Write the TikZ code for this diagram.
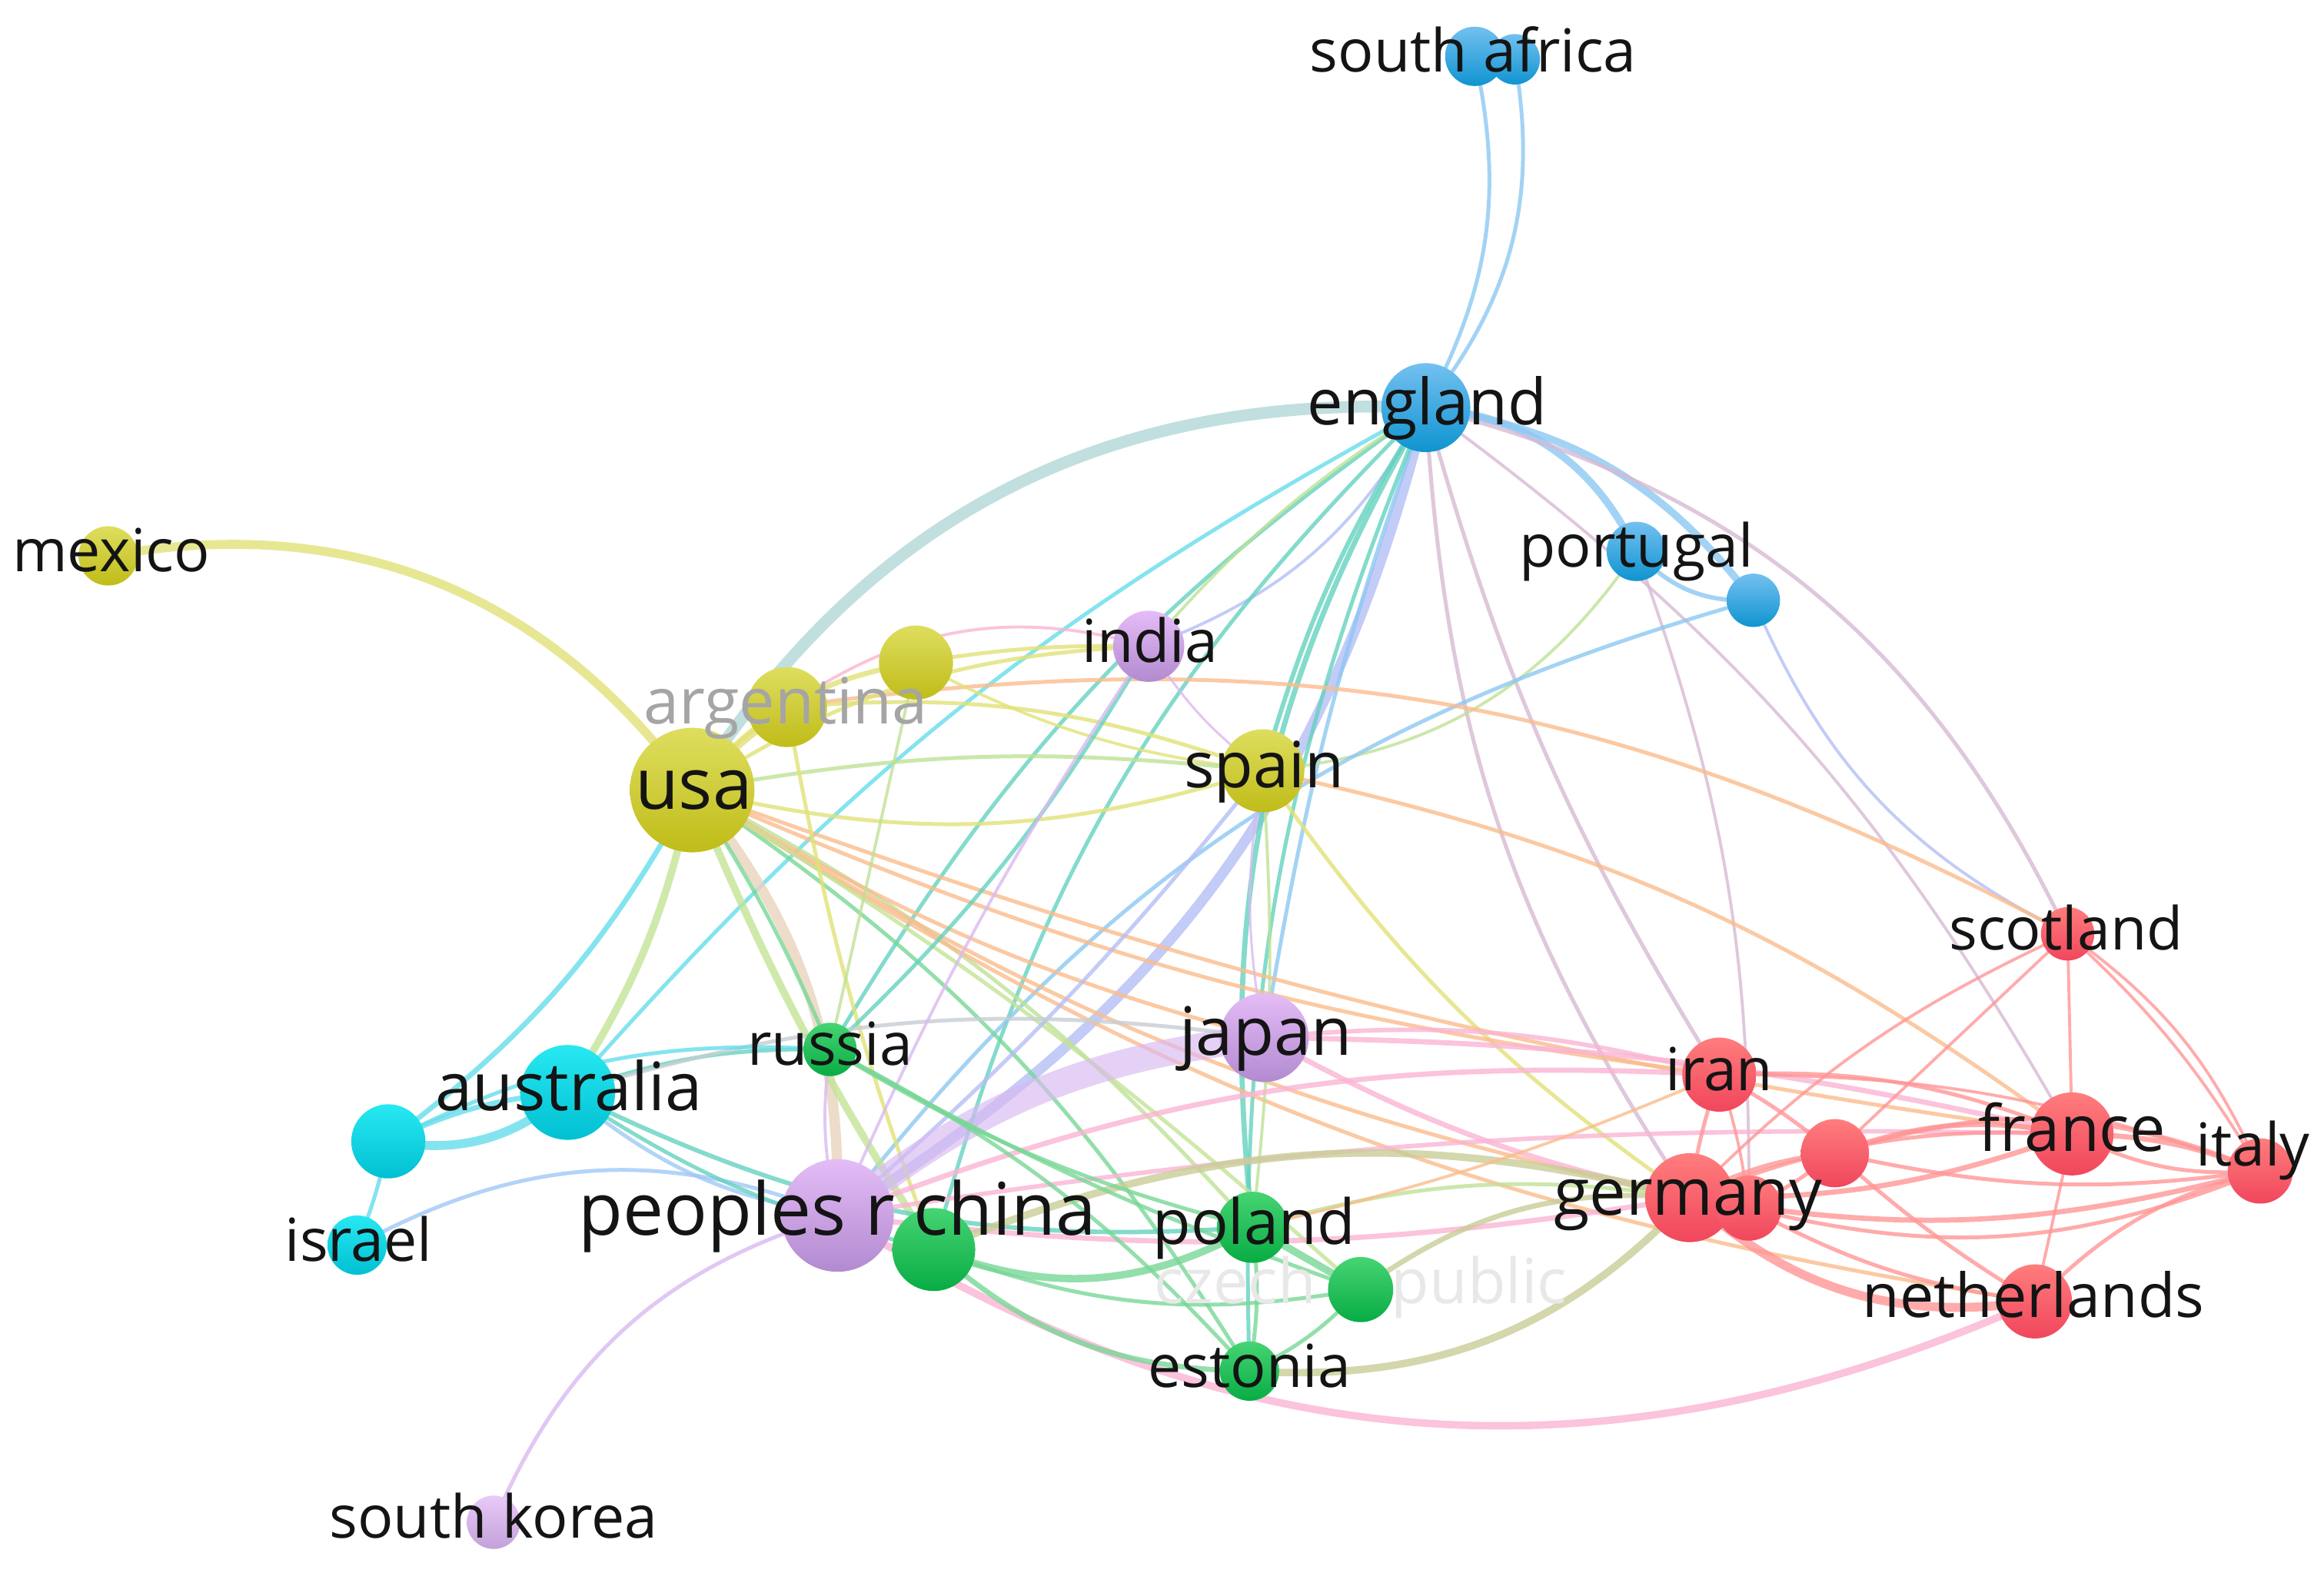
\documentclass[tikz,border=0pt]{standalone}
\usepackage{fontspec}
\setmainfont{Open Sans}
\pgfdeclarelayer{edges}
\pgfsetlayers{edges,main}
% node colours
\definecolor{yT}{RGB}{222,222,95}\definecolor{yB}{RGB}{192,188,25}
\definecolor{bT}{RGB}{115,192,240}\definecolor{bB}{RGB}{15,148,208}
\definecolor{cT}{RGB}{40,232,242}\definecolor{cB}{RGB}{0,192,210}
\definecolor{pT}{RGB}{228,188,246}\definecolor{pB}{RGB}{178,138,208}
\definecolor{gT}{RGB}{70,212,115}\definecolor{gB}{RGB}{8,172,68}
\definecolor{rT}{RGB}{255,125,125}\definecolor{rB}{RGB}{240,70,92}
% edge colours
\definecolor{eBlue}{RGB}{140,200,242}
\definecolor{eBU}{RGB}{178,215,215}
\definecolor{eYel}{RGB}{226,226,120}
\definecolor{eCyan}{RGB}{100,222,236}
\definecolor{ePur}{RGB}{218,185,242}
\definecolor{eGrn}{RGB}{120,215,150}
\definecolor{eRed}{RGB}{255,150,150}
\definecolor{ePink}{RGB}{250,180,212}
\definecolor{eOrg}{RGB}{250,188,140}
\definecolor{eTeal}{RGB}{100,210,190}
\definecolor{eYG}{RGB}{195,228,150}
\definecolor{eBP}{RGB}{180,190,246}
\definecolor{eBR}{RGB}{215,185,212}
\definecolor{eTan}{RGB}{232,212,188}
\definecolor{eOl}{RGB}{200,205,150}
\definecolor{eCP}{RGB}{160,200,246}
\definecolor{eGray}{RGB}{198,206,212}
\definecolor{eGY}{RGB}{190,225,150}
\definecolor{labgray}{RGB}{165,165,165}
\definecolor{labfaint}{RGB}{232,232,232}
\tikzset{
  nd/.style={circle,inner sep=0pt,draw=none},
  cy/.style={top color=yT,bottom color=yB},
  cb/.style={top color=bT,bottom color=bB},
  cc/.style={top color=cT,bottom color=cB},
  cp/.style={top color=pT,bottom color=pB},
  cg/.style={top color=gT,bottom color=gB},
  cr/.style={top color=rT,bottom color=rB},
  lab/.style={inner sep=0pt,anchor=base},
  edge/.style={line width=2.6,opacity=.8,line cap=round},
}
\newcommand\fsz[1]{\fontsize{#1}{#1}\selectfont}
\newcommand\lnk[5][]{\draw[edge,draw=#4,#1] (#2.center) to[bend left=#5] (#3.center);}
\newcommand\lbl[6][black!92]{\node[lab,font=\fsz{#5},text=#1] (#2-l) at (#3,{#4+0.268*#5}) {#6};}
\begin{document}
\begin{tikzpicture}[x=1pt,y=-1pt]
\useasboundingbox (0,0) rectangle (1568,1061);
% ---------- nodes ----------
\node[nd,cb,minimum size=40] (sa1) at (995,38) {};
\node[nd,cb,minimum size=34] (sa2) at (1022,40) {};
\node[nd,cb,minimum size=60] (eng) at (962,275) {};
\node[nd,cy,minimum size=40] (mex) at (73,375) {};
\node[nd,cb,minimum size=40] (por) at (1104,372) {};
\node[nd,cb,minimum size=36] (bl2) at (1183,405) {};
\node[nd,cp,minimum size=48] (ind) at (775,436) {};
\node[nd,cy,minimum size=50] (ye2) at (618,447) {};
\node[nd,cy,minimum size=54] (arg) at (531,477) {};
\node[nd,cy,minimum size=84] (usa) at (467,533) {};
\node[nd,cy,minimum size=56] (spa) at (852,520) {};
\node[nd,cr,minimum size=36] (sco) at (1395,630) {};
\node[nd,cp,minimum size=60] (jap) at (853,700) {};
\node[nd,cg,minimum size=36] (rus) at (560,708) {};
\node[nd,cc,minimum size=64] (aus) at (383,737) {};
\node[nd,cc,minimum size=50] (cy2) at (262,770) {};
\node[nd,cc,minimum size=40] (isr) at (241,840) {};
\node[nd,cr,minimum size=50] (ira) at (1160,725) {};
\node[nd,cr,minimum size=46] (rd2) at (1238,778) {};
\node[nd,cr,minimum size=56] (fra) at (1398,765) {};
\node[nd,cr,minimum size=44] (ita) at (1525,790) {};
\node[nd,cr,minimum size=60] (ger) at (1140,808) {};
\node[nd,cr,minimum size=44] (rd3) at (1180,815) {};
\node[nd,cr,minimum size=50] (net) at (1373,878) {};
\node[nd,cp,minimum size=76] (chn) at (565,820) {};
\node[nd,cg,minimum size=56] (gr2) at (630,843) {};
\node[nd,cg,minimum size=48] (pol) at (845,828) {};
\node[nd,cg,minimum size=44] (cze) at (918,870) {};
\node[nd,cg,minimum size=40] (est) at (843,925) {};
\node[nd,cp,minimum size=36,top color=pT!80,bottom color=pB!80] (kor) at (333,1027) {};
% ---------- labels ----------
\lbl{sa}{994}{38}{40}{south africa}
\lbl{eng}{963}{275}{43}{england}
\lbl{mex}{75}{375}{40}{mexico}
\lbl{por}{1104}{372}{40}{portugal}
\lbl{ind}{776}{436}{40}{india}
\lbl[labgray]{arg}{530}{477}{43}{argentina}
\lbl{usa}{468}{533}{48}{usa}
\lbl{spa}{853}{520}{43}{spain}
\lbl{sco}{1394}{630}{40}{scotland}
\lbl{jap}{854}{700}{45}{japan}
\lbl{rus}{560}{708}{40}{russia}
\lbl{aus}{384}{737}{45}{australia}
\lbl{isr}{242}{840}{40}{israel}
\lbl{ira}{1160}{725}{40}{iran}
\lbl{fra}{1398}{765}{43}{france}
\lbl{ita}{1520}{776}{40}{italy}
\lbl{ger}{1139}{808}{44}{germany}
\lbl{net}{1372}{878}{41}{netherlands}
\lbl{chn}{565}{820}{49}{peoples r china}
\lbl{pol}{846}{828}{42}{poland}
\lbl{est}{843}{925}{40}{estonia}
\lbl{kor}{333}{1027}{40}{south korea}
% ---------- edges ----------
\begin{pgfonlayer}{edges}
\fill[white] (0,0) rectangle (1568,1061);
% blue
\lnk{sa1}{eng}{eBlue}{20}
\lnk{sa2}{eng}{eBlue}{24}
\lnk[line width=8]{usa}{eng}{eBU}{30}
\lnk[line width=5]{eng}{por}{eBlue}{30}
\lnk[line width=5]{eng}{bl2}{eBlue}{22}
\lnk[line width=7]{eng}{chn}{eBP}{22}
\lnk{eng}{aus}{eCyan}{-10}
\lnk{eng}{rus}{eTeal}{-12}
\lnk[line width=2]{eng}{ind}{eBP}{20}
\lnk[line width=2]{eng}{ind}{eGY}{-8}
\lnk[line width=3]{eng}{spa}{eTeal}{-8}
\lnk{eng}{jap}{eBlue}{-5}
\lnk[line width=3.5]{eng}{pol}{eTeal}{-18}
\lnk{eng}{est}{eTeal}{-12}
\lnk{eng}{gr2}{eTeal}{-15}
\lnk{eng}{ger}{eBR}{-15}
\lnk{eng}{ira}{eBR}{-8}
\lnk{eng}{sco}{eBR}{25}
\lnk[line width=2]{eng}{fra}{eBR}{12}
\lnk[line width=2]{por}{spa}{eGY}{25}
\lnk[line width=2]{por}{rd3}{eBR}{10}
\lnk[line width=3]{por}{bl2}{eBlue}{-25}
\lnk[line width=2]{bl2}{sco}{eBP}{-20}
\lnk{bl2}{chn}{eBlue}{-18}
\lnk{arg}{sco}{eOrg}{18}
% yellow
\lnk[line width=6]{mex}{usa}{eYel}{32}
\lnk[line width=5]{usa}{arg}{eYel}{5}
\lnk[line width=3.5]{usa}{ye2}{eYel}{20}
\lnk{usa}{ind}{eYel}{15}
\lnk[line width=2]{arg}{ind}{ePink}{25}
\lnk{ye2}{ind}{eYel}{5}
\lnk{usa}{spa}{eYel}{-15}
\lnk{arg}{spa}{eYel}{12}
\lnk[line width=2]{ye2}{spa}{eYel}{-10}
\lnk{usa}{spa}{eGY}{8}
\lnk{spa}{fra}{eOrg}{12}
\lnk{spa}{ger}{eYel}{-10}
\lnk[line width=7]{usa}{chn}{eTan}{20}
\lnk[line width=5]{usa}{aus}{eYG}{10}
\lnk[line width=3.5]{usa}{cy2}{eCyan}{12}
\lnk[line width=5]{usa}{gr2}{eYG}{-5}
\lnk{usa}{pol}{eGY}{10}
\lnk{usa}{est}{eGrn}{12}
\lnk{usa}{rus}{eGrn}{5}
\lnk{usa}{jap}{eOrg}{-8}
\lnk{usa}{ger}{eOrg}{-10}
\lnk{usa}{ira}{eOrg}{-8}
\lnk{usa}{net}{eOrg}{-12}
\lnk{usa}{fra}{eOrg}{-6}
\lnk{usa}{cze}{eYG}{5}
\lnk{arg}{gr2}{eYel}{-5}
\lnk[line width=2]{ye2}{rus}{eGY}{0}
\lnk{ind}{rus}{eTeal}{8}
\lnk[line width=1.6]{ind}{spa}{ePur}{-10}
\lnk{spa}{chn}{eBP}{5}
\lnk[line width=1.6]{spa}{jap}{ePur}{-10}
\lnk[line width=2]{spa}{pol}{eGY}{5}
% cyan
\lnk[line width=6]{aus}{cy2}{eCyan}{25}
\lnk[line width=3.5]{aus}{cy2}{eCyan}{-10}
\lnk{cy2}{isr}{eCyan}{5}
\lnk{isr}{chn}{eCP}{25}
\lnk{aus}{chn}{eCP}{-15}
\lnk{aus}{rus}{eTeal}{10}
\lnk{aus}{jap}{eGray}{12}
\lnk[line width=3]{aus}{pol}{eTeal}{-15}
\lnk{aus}{gr2}{eTeal}{-10}
\lnk{cy2}{rus}{eCyan}{15}
% purple
\lnk[line width=18,opacity=.65]{chn}{jap}{ePur}{16}
\lnk{chn}{kor}{ePur}{-25}
\lnk[line width=5]{chn}{net}{ePink}{-28}
\lnk[line width=3.5]{chn}{ger}{ePink}{-8}
\lnk[line width=3.5]{chn}{ira}{ePink}{12}
\lnk[line width=3]{chn}{fra}{ePink}{5}
\lnk[line width=3.5]{jap}{ger}{ePink}{-8}
\lnk[line width=3]{jap}{ira}{ePink}{10}
\lnk[line width=3.5]{jap}{fra}{ePink}{6}
\lnk[line width=2]{chn}{rus}{ePur}{10}
\lnk[line width=2]{ind}{chn}{ePur}{-5}
% green
\lnk[line width=5]{gr2}{pol}{eGrn}{-25}
\lnk{gr2}{cze}{eGrn}{-15}
\lnk[line width=3.5]{gr2}{est}{eGrn}{-20}
\lnk[line width=5]{gr2}{ger}{eOl}{18}
\lnk{rus}{pol}{eGrn}{-8}
\lnk{rus}{est}{eGrn}{10}
\lnk{rus}{cze}{eGrn}{-5}
\lnk[line width=5]{pol}{cze}{eGrn}{0}
\lnk{pol}{est}{eGrn}{8}
\lnk{cze}{est}{eGrn}{10}
\lnk[line width=5]{est}{ger}{eOl}{-25}
\lnk[line width=3.5]{cze}{ger}{eOl}{20}
\lnk{pol}{ger}{eGY}{12}
\lnk[line width=2]{pol}{ira}{eOrg}{-5}
% red
\lnk[line width=3.5]{ger}{rd3}{eRed}{0}
\lnk[line width=3.5]{ger}{rd2}{eRed}{10}
\lnk{rd3}{rd2}{eRed}{-5}
\lnk{ger}{ira}{eRed}{5}
\lnk[line width=2]{rd3}{ira}{eRed}{-5}
\lnk{ira}{rd2}{eRed}{5}
\lnk[line width=3.5]{ger}{fra}{eRed}{-10}
\lnk{ger}{fra}{eRed}{12}
\lnk[line width=3.5]{ger}{ita}{eRed}{-12}
\lnk[line width=6]{ger}{net}{eRed}{-25}
\lnk{rd3}{net}{eRed}{-10}
\lnk[line width=2]{ger}{sco}{eRed}{10}
\lnk[line width=3.5]{rd2}{fra}{eRed}{15}
\lnk[line width=3]{rd2}{ita}{eRed}{20}
\lnk{rd2}{ita}{eRed}{-10}
\lnk{rd2}{net}{eRed}{-5}
\lnk[line width=2]{rd2}{sco}{eRed}{0}
\lnk[line width=3.5]{fra}{ita}{eRed}{10}
\lnk{fra}{ita}{eRed}{-15}
\lnk[line width=2]{fra}{net}{eRed}{0}
\lnk[line width=2]{fra}{sco}{eRed}{0}
\lnk[line width=2]{ita}{sco}{eRed}{-15}
\lnk[line width=2]{ita}{sco}{eRed}{-8}
\lnk{ita}{net}{eRed}{-15}
\lnk{ira}{fra}{eRed}{12}
\lnk[line width=2]{ira}{ita}{eRed}{10}
\lnk{rd3}{ita}{eRed}{-18}
% faint label behind the nodes
\lbl[labfaint]{cze}{918}{868}{42}{czech republic}
\end{pgfonlayer}
\end{tikzpicture}
\end{document}
